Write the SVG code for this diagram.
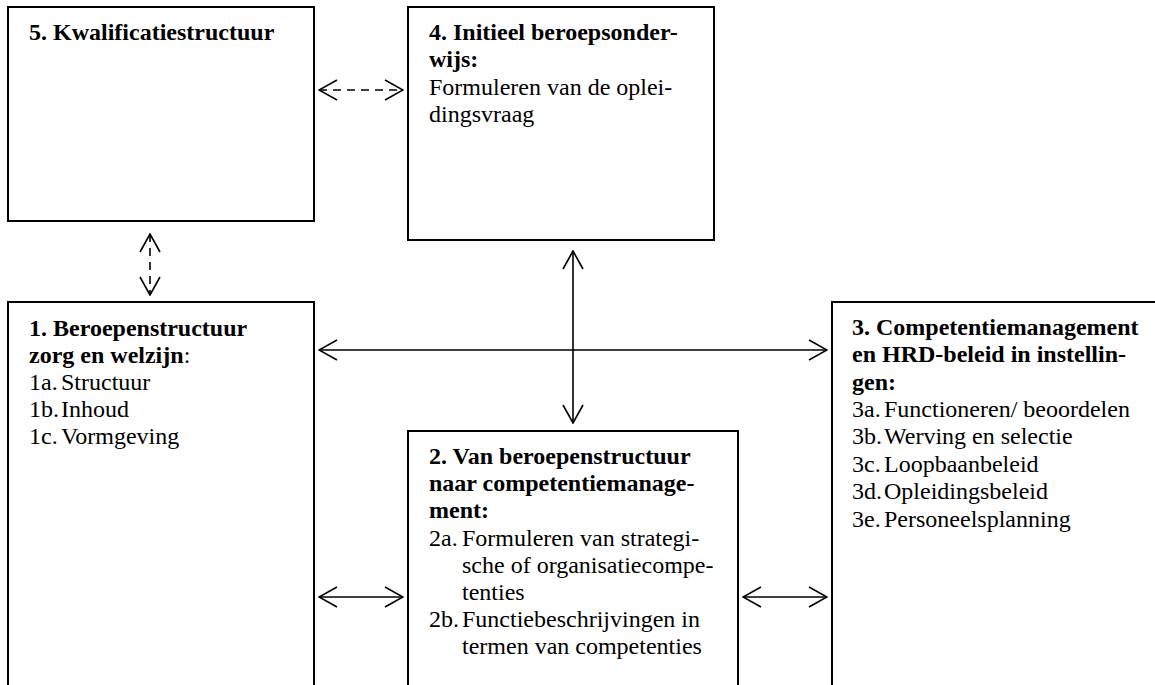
<svg xmlns="http://www.w3.org/2000/svg" width="1155" height="685" viewBox="0 0 1155 685">
<style>
.box{fill:#fff;stroke:#000;stroke-width:2}
text{font-family:"Liberation Serif","Times New Roman",serif;font-size:24px;fill:#000}
.b{font-weight:bold}
.ln{fill:none;stroke:#000;stroke-width:1.6}
.dash{stroke-dasharray:8 6}
</style>
<defs>
<marker id="ah" viewBox="0 0 20 22" refX="19" refY="11" markerWidth="20" markerHeight="22" markerUnits="userSpaceOnUse" orient="auto-start-reverse">
<path d="M1,1 L19,11 L1,21" fill="none" stroke="#000" stroke-width="1.6"/>
</marker>
</defs>
<rect width="1155" height="685" fill="#fff"/>
<g id="node5">
<rect class="box" x="8" y="7" width="306" height="214"/>
<text class="b" x="29" y="40">5. Kwalificatiestructuur</text>
</g>
<g id="node4">
<rect class="box" x="408" y="7" width="306" height="233"/>
<text class="b" x="429" y="39.5">4. Initieel beroepsonder-</text>
<text class="b" x="429" y="67">wijs:</text>
<text x="429" y="94.5">Formuleren van de oplei-</text>
<text x="429" y="122">dingsvraag</text>
</g>
<g id="node1">
<rect class="box" x="8" y="302" width="306" height="400"/>
<text class="b" x="29" y="336">1. Beroepenstructuur</text>
<text x="29" y="363"><tspan class="b">zorg en welzijn</tspan>:</text>
<text x="29" y="390">1a.<tspan x="61">Structuur</tspan></text>
<text x="29" y="417">1b.<tspan x="61">Inhoud</tspan></text>
<text x="29" y="444">1c.<tspan x="61">Vormgeving</tspan></text>
</g>
<g id="node2">
<rect class="box" x="408" y="431" width="330" height="300"/>
<text class="b" x="429" y="464">2. Van beroepenstructuur</text>
<text class="b" x="429" y="491">naar competentiemanage-</text>
<text class="b" x="429" y="518">ment:</text>
<text x="429" y="545.5">2a.<tspan x="462">Formuleren van strategi-</tspan></text>
<text x="462" y="573">sche of organisatiecompe-</text>
<text x="462" y="600">tenties</text>
<text x="429" y="627">2b.<tspan x="462">Functiebeschrijvingen in</tspan></text>
<text x="462" y="654">termen van competenties</text>
</g>
<g id="node3">
<rect class="box" x="832" y="302" width="360" height="420"/>
<text class="b" x="852" y="335">3. Competentiemanagement</text>
<text class="b" x="852" y="362">en HRD-beleid in instellin-</text>
<text class="b" x="852" y="389.5">gen:</text>
<text x="852" y="417">3a.<tspan x="884">Functioneren/ beoordelen</tspan></text>
<text x="852" y="444">3b.<tspan x="884">Werving en selectie</tspan></text>
<text x="852" y="471.5">3c.<tspan x="884">Loopbaanbeleid</tspan></text>
<text x="852" y="499">3d.<tspan x="884">Opleidingsbeleid</tspan></text>
<text x="852" y="526.5">3e.<tspan x="884">Personeelsplanning</tspan></text>
</g>
<g id="connectors">
<line class="ln dash" x1="319" y1="90" x2="403" y2="90" marker-start="url(#ah)" marker-end="url(#ah)"/>
<line class="ln dash" x1="150" y1="234" x2="150" y2="295" marker-start="url(#ah)" marker-end="url(#ah)"/>
<line class="ln" x1="319" y1="350" x2="827" y2="350" marker-start="url(#ah)" marker-end="url(#ah)"/>
<line class="ln" x1="573" y1="251" x2="573" y2="423" marker-start="url(#ah)" marker-end="url(#ah)"/>
<line class="ln" x1="319" y1="597" x2="403" y2="597" marker-start="url(#ah)" marker-end="url(#ah)"/>
<line class="ln" x1="743" y1="597" x2="827" y2="597" marker-start="url(#ah)" marker-end="url(#ah)"/>
</g>
</svg>
